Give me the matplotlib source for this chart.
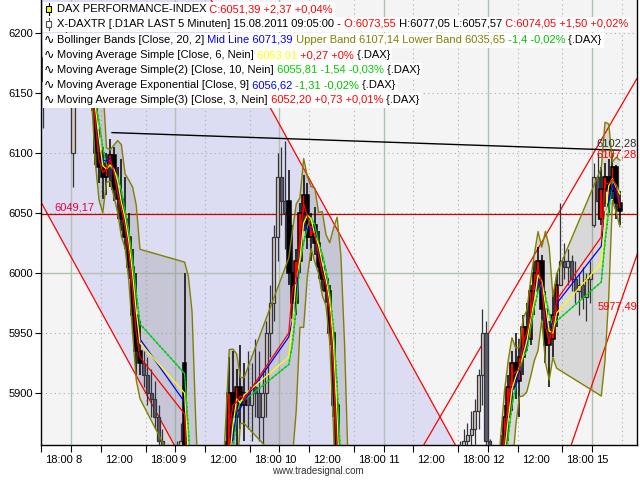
import numpy as np
import pandas as pd
import matplotlib
matplotlib.use("Agg")
import matplotlib.pyplot as plt
import matplotlib.transforms as mtransforms
from matplotlib.patches import Rectangle
from matplotlib.lines import Line2D
from matplotlib.text import Annotation

plt.rcParams['font.family'] = ['Liberation Sans', 'DejaVu Sans']

# ---- data (30 minute bars) ----
# DAX, 09:00-17:30 on the trading days 8.8. .. 12.8. and 15.8. (day 0 = Fr 5.8.)
dax_day = [1, 2, 3, 4, 5, 6]
dax_bars_per_day = [17, 17, 17, 17, 17, 6]
dax_first_open = [6190, 5925, 6060, 5700, 5830, 6045]
dax_close = [
    6175, 6160, 6165, 6150, 6100, 6088, 6080, 6092, 6098, 6070, 6062, 6045, 6030, 6005, 5965, 5935, 5925,
    5840, 5780, 5720, 5680, 5650, 5640, 5620, 5660, 5700, 5740, 5790, 5840, 5900, 5880, 5905, 5890, 5900,
    6000, 5975, 6010, 6050, 6065, 6030, 6040, 6025, 6005, 5995, 5985, 5950, 5890, 5800, 5720, 5660, 5620,
    5650, 5600, 5580, 5620, 5660, 5640, 5680, 5700, 5690, 5720, 5740, 5700, 5720, 5750, 5770, 5780, 5790,
    5820, 5850, 5880, 5905, 5925, 5910, 5930, 5955, 5945, 5985, 6000, 6010, 5970, 5940, 5945, 5965, 5990,
    6070, 6080, 6068, 6088, 6058, 6051.39,
]
dax_high = [
    6195, 6185, 6180, 6172, 6152, 6120, 6105, 6100, 6112, 6105, 6088, 6095, 6080, 6050, 6020, 6000, 5960,
    6000, 5850, 5790, 5735, 5700, 5670, 5655, 5680, 5720, 5760, 5810, 5860, 5930, 5935, 5920, 5940, 5925,
    6086, 6040, 6020, 6058, 6082, 6075, 6050, 6055, 6035, 6015, 6000, 5990, 5955, 5895, 5810, 5730, 5670,
    5710, 5660, 5610, 5630, 5670, 5665, 5690, 5710, 5705, 5730, 5750, 5745, 5730, 5760, 5780, 5790, 5800,
    5855, 5865, 5890, 5915, 5935, 5950, 5945, 5965, 5975, 5990, 6010, 6022, 6015, 5985, 5960, 5985, 6000,
    6088, 6092, 6095, 6100, 6090, 6068,
]
dax_low = [
    6160, 6150, 6150, 6135, 6090, 6075, 6062, 6065, 6072, 6060, 6045, 6035, 6020, 5995, 5950, 5915, 5915,
    5820, 5770, 5700, 5660, 5630, 5610, 5600, 5610, 5650, 5690, 5730, 5790, 5840, 5860, 5855, 5870, 5860,
    5990, 5962, 5965, 6000, 6035, 6020, 6010, 6015, 5995, 5985, 5975, 5940, 5880, 5790, 5710, 5650, 5600,
    5640, 5590, 5560, 5570, 5615, 5630, 5635, 5675, 5680, 5685, 5715, 5690, 5695, 5715, 5745, 5765, 5775,
    5800, 5810, 5840, 5860, 5885, 5895, 5880, 5915, 5935, 5940, 5965, 5985, 5960, 5925, 5905, 5930, 5955,
    6040, 6055, 6050, 6062, 6045, 6040,
]

# X-DAX outside the DAX session: evening up to 22:00 plus next morning 08:00-09:00
xdax_night = [0, 1, 2, 3, 4, 5]
xdax_evening_start = [18.0, 17.5, 17.5, 17.5, 17.5, 17.5]
xdax_evening_bars = [8, 9, 9, 9, 9, 9]
xdax_open = [
    6180, 6160, 6170, 6180, 6175, 6190, 6185, 6195, 6100, 6150,
    5925, 5915, 5900, 5895, 5880, 5860, 5840, 5820, 5810, 5830, 5845,
    5900, 5890, 5905, 5900, 5880, 5900, 5950, 5975, 6030, 6080, 6060,
    5620, 5600, 5580, 5560, 5590, 5620, 5650, 5640, 5660, 5680, 5690,
    5790, 5820, 5850, 5860, 5865, 5870, 5885, 5915, 5950, 5860, 5830,
    5990, 6010, 6005, 6010, 5995, 5985, 5990, 5980, 5995, 6040, 6080,
]
xdax_close = [
    6160, 6170, 6180, 6175, 6190, 6185, 6195, 6180, 6150, 6160,
    5915, 5900, 5895, 5880, 5860, 5840, 5820, 5810, 5830, 5845, 5860,
    5890, 5905, 5900, 5880, 5900, 5950, 5975, 6030, 6080, 6060, 6050,
    5600, 5580, 5560, 5590, 5620, 5650, 5640, 5660, 5680, 5690, 5700,
    5820, 5850, 5860, 5865, 5870, 5885, 5915, 5950, 5860, 5830, 5835,
    6010, 6005, 6010, 5995, 5985, 5990, 5980, 5995, 6000, 6080, 6060,
]
xdax_high = [
    6190, 6185, 6190, 6190, 6200, 6200, 6205, 6200, 6185, 6170,
    5935, 5930, 5920, 5910, 5890, 5870, 5850, 5840, 5840, 5860, 5875,
    5935, 5925, 5945, 5935, 5920, 5960, 5990, 6040, 6100, 6105, 6110,
    5630, 5610, 5590, 5600, 5630, 5660, 5665, 5670, 5690, 5700, 5710,
    5840, 5860, 5870, 5875, 5885, 5895, 5920, 5970, 5960, 5862, 5850,
    6058, 6025, 6020, 6015, 6010, 6000, 6005, 6000, 6010, 6092, 6100,
]
xdax_low = [
    6121, 6150, 6160, 6160, 6170, 6170, 6180, 6170, 6072, 6145,
    5905, 5890, 5880, 5870, 5850, 5830, 5800, 5790, 5800, 5820, 5830,
    5870, 5860, 5880, 5860, 5850, 5880, 5930, 5960, 6010, 6040, 6020,
    5590, 5570, 5550, 5555, 5585, 5615, 5630, 5635, 5655, 5675, 5685,
    5790, 5815, 5840, 5845, 5850, 5855, 5870, 5890, 5855, 5810, 5800,
    5990, 5995, 5990, 5985, 5975, 5965, 5970, 5960, 5975, 6038, 6045,
]

# drawing tools: (hours, prices) anchor points
hline_level = 6049.17
trend_black = ([9.5, 77.8], [6117.0, 6102.3])
chan_a = ([0.0, 18.15], [6058.5, 5853.4])
chan_b = ([31.67, 44.17], [6127.5, 5986.3])
chan_c = ([51.3, 76.8], [5855.8, 6127.5])
chan_d = ([73.3, 80.2], [5894.2, 6017.8])


def hpos(day, hour):
    # time axis only holds 08:00-22:00 of each trading day
    return 14 * day - 10 + (hour - 8)


dax_x = [hpos(d, 9.25 + 0.5 * k) for d, n in zip(dax_day, dax_bars_per_day) for k in range(n)]
dax_open = []
i = 0
for first, n in zip(dax_first_open, dax_bars_per_day):
    dax_open += [first] + dax_close[i:i + n - 1]
    i += n

xdax_x = []
for night, start, n in zip(xdax_night, xdax_evening_start, xdax_evening_bars):
    xdax_x += [hpos(night, start + 0.25 + 0.5 * k) for k in range(n)]
    xdax_x += [hpos(night + 1, 8.25 + 0.5 * k) for k in range(2)]

# indicators on the DAX closes
s = pd.Series(dax_close)
ma_fast = s.rolling(2).mean()     # Simple(3)
ma_mid = s.rolling(3).mean()      # Simple [6]
ma_slow = s.rolling(4).mean()     # Simple(2) [10]
ema = s.ewm(span=3, adjust=False).mean()
bb_mid = s.rolling(4).mean()
bb_sd = s.rolling(4).std(ddof=0)
bb_up = bb_mid + 2 * bb_sd
bb_lo = bb_mid - 2 * bb_sd

fig = plt.figure(figsize=(6.4, 4.8), dpi=100)
ax = fig.add_axes([41 / 640, 35 / 480, 596 / 640, 445 / 480])
ax.set_facecolor('#f4f4f4')
x0, x1 = -0.05, 80.05
y0, y1 = 5856.67, 6227.5
ax.set_xlim(x0, x1)
ax.set_ylim(y0, y1)


def extend(line):
    (xa, xb), (ya, yb) = line
    k = (yb - ya) / (xb - xa)
    xs = np.array([x0 - 5, x1 + 5])
    return xs, ya + k * (xs - xa)


# falling channel shading
xs, ya = extend(chan_a)
_, yb = extend(chan_b)
ax.fill_between(xs, ya, yb, color='#dcdcf2', lw=0, zorder=0.5)

# grid
day_h = [hpos(d, 8) for d in range(1, 7)]
hour_h = [hpos(d, hh) for d in range(0, 7) for hh in (12, 18) if x0 < hpos(d, hh) < x1]
for h in day_h:
    ax.axvline(h, color='#b0c2b0', lw=1.0, zorder=0.6)
for h in hour_h:
    ax.axvline(h, color='#a8b0a8', lw=0.8, ls=(0, (1, 3)), zorder=0.6)
for p in range(5900, 6250, 50):
    if p == 6000:
        ax.axhline(p, color='#b0c2b0', lw=1.0, zorder=0.6)
    else:
        ax.axhline(p, color='#a8b0a8', lw=0.8, ls=(0, (1, 3)), zorder=0.6)

# Bollinger band area
ax.fill_between(dax_x, bb_lo, bb_up, color='#808080', alpha=0.24, lw=0, zorder=1)

# drawing tools
for line in (chan_a, chan_b, chan_c, chan_d):
    lx, ly = extend(line)
    ax.plot(lx, ly, color='#ff0000', lw=0.9, zorder=2)
ax.axhline(hline_level, color='#cc0000', lw=0.9, zorder=2)
ax.plot(trend_black[0], trend_black[1], color='black', lw=1.0, zorder=2)


def candles(x, o, h, l, c, width, up_face, down_face, edge, lw, z):
    o, h, l, c = map(np.asarray, (o, h, l, c))
    up = c >= o
    ax.vlines(x, l, h, color=edge, lw=lw, zorder=z)
    bottom = np.minimum(o, c)
    height = np.maximum(np.abs(c - o), 0.8)
    faces = np.where(up, up_face, down_face)
    ax.bar(x, height, width, bottom, color=faces, edgecolor=edge, linewidth=lw, zorder=z + 0.1)


candles(xdax_x, xdax_open, xdax_high, xdax_low, xdax_close, 0.42,
        '#d8c8b4', '#5c5c6c', '#34343f', 0.9, 3)
candles(dax_x, dax_open, dax_high, dax_low, dax_close, 0.48,
        '#ff0000', '#000000', '#000000', 1.1, 4)

# indicator lines
ax.plot(dax_x, bb_mid, color='#0000ff', lw=1.0, ls=(0, (1, 2)), zorder=5)
ax.plot(dax_x, ma_slow, color='#00e000', lw=0.9, zorder=5)
ax.plot(dax_x, ema, color='#0000ff', lw=0.9, zorder=5)
ax.plot(dax_x, ma_mid, color='#ffff00', lw=0.9, zorder=5)
ax.plot(dax_x, ma_fast, color='#ff0000', lw=0.9, zorder=5)
ax.plot(dax_x, bb_up, color='#808000', lw=1.0, zorder=5.5)
ax.plot(dax_x, bb_lo, color='#808000', lw=1.0, zorder=5.5)

# value labels of the drawing tools
ax.text(1.8, hline_level + 1.5, '6049,17', color='#e8003c', fontsize=8, va='bottom', zorder=6)
ax.text(x1, trend_black[1][1] + 1.5, '6102,28', color='#303030', fontsize=8, ha='right', va='bottom', zorder=6)
ax.text(x1, 6095, '6107,28', color='#ff0000', fontsize=8, ha='right', va='bottom', zorder=6)
ax.text(x1, 5968, '5977,49', color='#ff0000', fontsize=8, ha='right', va='bottom', zorder=6)

# axes
tick_h, tick_lab = [0], ['18:00']
for d, lab in zip(range(1, 7), ['8', '9', '10', '11', '12', '15']):
    tick_h.append(hpos(d, 8))
    tick_lab.append(lab)
    if d < 6:
        tick_h += [hpos(d, 12), hpos(d, 18)]
        tick_lab += ['12:00', '18:00']
ax.set_xticks(tick_h, tick_lab)
ax.set_yticks(list(range(5900, 6250, 50)))
ax.tick_params(axis='both', direction='out', length=4, width=0.8, labelsize=8, pad=2)
ax.tick_params(axis='x', length=5)
shift = mtransforms.ScaledTranslation(3 / 72, 0, fig.dpi_scale_trans)
for lab in ax.get_xticklabels():
    lab.set_horizontalalignment('left')
    lab.set_transform(lab.get_transform() + shift)
for side in ('left', 'bottom', 'right'):
    ax.spines[side].set_color('black')
    ax.spines[side].set_linewidth(1.0)
ax.spines['top'].set_visible(False)

fig.text(318 / 640, 1 - 471 / 480, 'www.tradesignal.com', ha='center', va='center',
         fontsize=7, color='#333333')

# legend rows (each with own white box)
black, red, blue, olive, green = '#000000', '#ff0000', '#0000ff', '#808000', '#00c000'
rows = [
    [('DAX PERFORMANCE-INDEX', black), (' C:6051,39 +2,37 +0,04%', red)],
    [('X-DAXTR [.D1AR LAST 5 Minuten] 15.08.2011 09:05:00 -', black), (' O:6073,55', red),
     (' H:6077,05 L:6057,57', black), (' C:6074,05 +1,50 +0,02%', red)],
    [('Bollinger Bands [Close, 20, 2]', black), (' Mid Line 6071,39', blue),
     (' Upper Band 6107,14 Lower Band 6035,65', olive), (' -1,4 -0,02%', green), (' {.DAX}', black)],
    [('Moving Average Simple [Close, 6, Nein]', black), (' 6053,01', '#ffff00'),
     (' +0,27 +0%', red), (' {.DAX}', black)],
    [('Moving Average Simple(2) [Close, 10, Nein]', black), (' 6055,81 -1,54 -0,03%', '#00d000'),
     (' {.DAX}', black)],
    [('Moving Average Exponential [Close, 9]', black), (' 6056,62', blue), (' -1,31 -0,02%', green),
     (' {.DAX}', black)],
    [('Moving Average Simple(3) [Close, 3, Nein]', black), (' 6052,20 +0,73 +0,01%', red), (' {.DAX}', black)],
]
row_y = [9, 24, 40, 55, 70, 85, 100]
row_texts = []
for yc, pieces in zip(row_y, rows):
    t = fig.text(57 / 640, 1 - yc / 480, pieces[0][0], color=pieces[0][1], fontsize=8,
                 va='center', zorder=6)
    arts = [t]
    for txt, col in pieces[1:]:
        t = Annotation(txt, xy=(1, 0), xycoords=t, va='bottom', color=col, fontsize=8, zorder=6)
        fig.add_artist(t)
        arts.append(t)
    row_texts.append(arts)

fig.canvas.draw()
for yc, arts in zip(row_y, row_texts):
    right = max(a.get_window_extent().x1 for a in arts) + 2
    fig.add_artist(Rectangle((43 / 640, 1 - (yc + 7.5) / 480), (right - 43) / 640, 15 / 480,
                             transform=fig.transFigure, facecolor='white', edgecolor='none', zorder=5))

# row icons
for k, yc in enumerate(row_y):
    if k < 2:
        face = '#ffff00' if k == 0 else 'white'
        edge = 'black' if k == 0 else '#505050'
        fig.add_artist(Line2D([48.5 / 640] * 2, [1 - (yc - 6) / 480, 1 - (yc + 6) / 480],
                              transform=fig.transFigure, color=edge, lw=0.8, zorder=6))
        fig.add_artist(Rectangle((46 / 640, 1 - (yc + 3) / 480), 5 / 640, 6 / 480,
                                 transform=fig.transFigure, facecolor=face, edgecolor=edge,
                                 lw=0.8, zorder=6.5))
    else:
        fig.text(44 / 640, 1 - yc / 480, '\u223f', fontsize=9, family='DejaVu Sans',
                 va='center', zorder=6)

fig.savefig('out.png', dpi=100)
